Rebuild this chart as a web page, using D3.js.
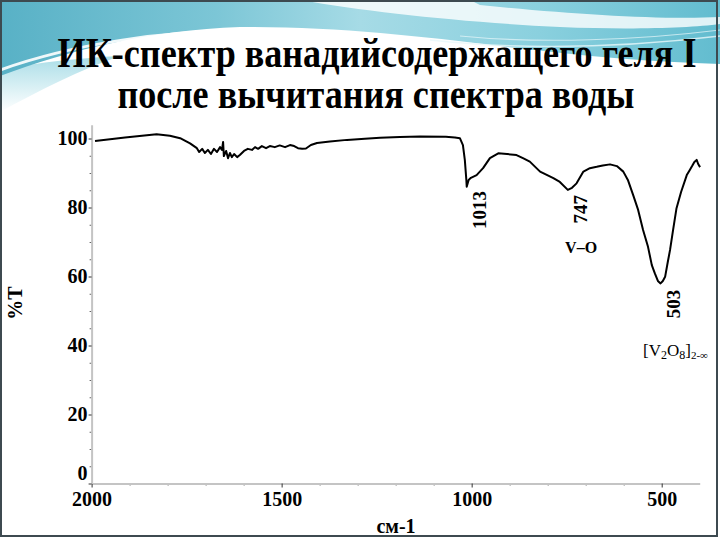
<!DOCTYPE html>
<html><head><meta charset="utf-8">
<script src="https://cdn.jsdelivr.net/npm/d3@7"></script>
<style>html,body{margin:0;padding:0;background:#fff;}svg{display:block;}</style>
</head><body>
<svg id="c" width="720" height="540"></svg>
<script>
// ---- data ----
const titleLines = ["ИК-спектр ванадийсодержащего геля I", "после вычитания спектра воды"];
const yLabel = "%T";
const xLabel = "см-1";
const xTicks = [2000, 1500, 1000, 500];
const yTicks = [0, 20, 40, 60, 80, 100];
const wavenumber = [1991,1912,1829,1794,1767,1741,1723,1717,1709,1702,1694,1686,1678,1670,1662,1657,1654,1652,1646,1641,1636,1631,1625,1617,1610,1599,1589,1578,1570,1562,1552,1541,1531,1518,1505,1491,1478,1467,1457,1446,1436,1423,1407,1373,1328,1281,1241,1189,1136,1068,1044,1031,1023,1018,1014,1013,1008,1002,987,970,952,930,907,882,865,847,820,785,768,747,736,724,706,689,671,655,636,618,601,589,575,562,549,536,526,518,510,503,497,491,484,478,470,461,449,434,426,420,414,408,404,399];
const transmittance = [99.3,100.3,101.2,100.8,100.1,98.6,97.2,96.1,97.0,95.8,96.7,95.5,97.0,96.1,97.5,96.7,99.0,94.9,96.4,94.3,95.8,94.6,95.5,94.6,95.2,96.4,97.0,96.7,97.5,97.0,97.8,97.2,97.8,97.5,98.0,97.5,98.1,97.8,97.2,97.0,97.1,98.1,98.7,99.1,99.6,99.9,100.2,100.4,100.6,100.5,100.3,100.1,98.1,93.8,88.0,86.0,88.0,88.6,89.4,91.4,94.3,95.7,95.5,95.2,94.3,93.3,90.4,88.5,87.4,85.1,85.7,87.0,90.4,91.4,91.8,92.2,92.5,92.0,90.4,88.0,83.6,79.3,73.5,68.6,63.3,60.9,58.7,58.0,58.7,59.9,64.2,67.7,73.5,79.8,84.5,89.4,90.9,92.0,93.2,93.8,92.6,91.7];
const peakLabels = [{w:1013, t:"1013", v:79.3}, {w:747, t:"747", v:79.5}, {w:503, t:"503", v:52.0}];
const bandLabels = [{w:712, v:66.8, t:"V–O"}];

const svg = d3.select("#c");
const serif = "'Liberation Serif','Times New Roman',serif";

// ---- background decoration ----
const defs = svg.append("defs");
const g1 = defs.append("linearGradient").attr("id","sky").attr("x1","0").attr("x2","1").attr("y1","0").attr("y2","0");
[["0%","#58b1c6"],["30%","#7cc6d6"],["50%","#a6dbe6"],["75%","#8ad0de"],["100%","#62bccf"]].forEach(s=>g1.append("stop").attr("offset",s[0]).attr("stop-color",s[1]));
const g2 = defs.append("linearGradient").attr("id","wedge").attr("x1","0").attr("x2","0").attr("y1","0").attr("y2","1");
g2.append("stop").attr("offset","0%").attr("stop-color","#a9dde7");
g2.append("stop").attr("offset","100%").attr("stop-color","#ffffff");

svg.append("rect").attr("width",720).attr("height",540).attr("fill","#fff");
svg.append("path").attr("d","M0,70 C40,62 80,58 120,56 C80,70 40,90 0,112 Z").attr("fill","url(#wedge)");
svg.append("path").attr("d","M0,0 H720 V64 C650,62 580,56 500,46 C420,36 330,26 240,27 C150,30 70,50 0,76 Z").attr("fill","url(#sky)");
svg.append("path").attr("d","M300,0 C370,12 460,22 560,27 C630,30 690,28 720,24 L720,17 C660,20 570,14 480,5 L470,0 Z").attr("fill","#fff").attr("opacity",0.8);
svg.append("path").attr("d","M0,70 C70,45 160,30 260,30 C320,31 360,36 380,40").attr("fill","none").attr("stroke","#fff").attr("stroke-width",3).attr("opacity",0.9);
svg.append("path").attr("d","M430,40 C520,50 620,48 720,36").attr("fill","none").attr("stroke","#e8f7fa").attr("stroke-width",1.5).attr("opacity",0.8);
svg.append("path").attr("d","M460,36 C540,44 640,40 720,30").attr("fill","none").attr("stroke","#e8f7fa").attr("stroke-width",1.2).attr("opacity",0.7);
svg.append("rect").attr("x",1).attr("y",1).attr("width",716).attr("height",535).attr("fill","none").attr("stroke","#3d4a50").attr("stroke-width",2);

// ---- title: one text block of two lines, condensed horizontally ----
const tFont = 42;
const probe = svg.append("text").attr("font-family",serif).attr("font-weight","bold").attr("font-size",tFont).text(titleLines[0]);
const nat1 = probe.node().getComputedTextLength();
probe.remove();
const sx = 639 / nat1;
const tg = svg.append("g").attr("transform",`translate(377,67) scale(${sx},1)`);
const tt = tg.append("text").attr("text-anchor","middle").attr("font-family",serif).attr("font-weight","bold")
  .attr("font-size",tFont).attr("fill","#000");
tt.append("tspan").attr("x",0).attr("y",0).text(titleLines[0]);
tt.append("tspan").attr("x",-1/sx).attr("y",41).text(titleLines[1]);

// ---- scales ----
const x = d3.scaleLinear().domain([2000, 400]).range([91.6, 699.7]);
const y = d3.scaleLinear().domain([0, 104]).range([483.5, 124.7]);

// minor ticks
const xMinor = d3.range(1900, 400, -100).filter(v => v % 500 !== 0);
const yMinor = d3.range(5, 104, 5).filter(v => v % 20 !== 0);
svg.append("g").attr("transform","translate(0,483.5)")
  .call(d3.axisBottom(x).tickValues(xMinor).tickSize(2).tickFormat(""))
  .call(g=>{g.select(".domain").remove(); g.selectAll("line").attr("stroke","#555");});
svg.append("g").attr("transform","translate(91.6,0)")
  .call(d3.axisLeft(y).tickValues(yMinor).tickSize(2).tickFormat(""))
  .call(g=>{g.select(".domain").remove(); g.selectAll("line").attr("stroke","#666");});

// major axes
const xa = svg.append("g").attr("transform","translate(0,483.5)")
  .call(d3.axisBottom(x).tickValues(xTicks).tickFormat(d3.format("d")).tickSize(4).tickPadding(4).tickSizeOuter(0));
xa.select(".domain").attr("stroke","#c4c4c4").attr("stroke-width",2);
xa.selectAll("line").attr("stroke","#333");
xa.selectAll("text").attr("font-family",serif).attr("font-weight","bold").attr("font-size",20).attr("fill","#000");

const ya = svg.append("g").attr("transform","translate(91.6,0)")
  .call(d3.axisLeft(y).tickValues(yTicks).tickFormat(d3.format("d")).tickSize(3).tickPadding(1).tickSizeOuter(0));
ya.select(".domain").attr("stroke","#c4c4c4").attr("stroke-width",2);
ya.selectAll("line").attr("stroke","#333");
ya.selectAll("text").attr("font-family",serif).attr("font-weight","bold").attr("font-size",20).attr("fill","#000")
  .attr("dy", d => d === 0 ? "-0.18em" : "0.32em");

// axis titles
svg.append("text").attr("transform","translate(15,303) rotate(-90)").attr("text-anchor","middle").attr("dominant-baseline","central")
  .attr("font-family",serif).attr("font-weight","bold").attr("font-size",20).text(yLabel);
svg.append("text").attr("x",396).attr("y",533).attr("text-anchor","middle")
  .attr("font-family",serif).attr("font-weight","bold").attr("font-size",20).text(xLabel);

// ---- spectrum ----
const pts = wavenumber.map((w,i)=>[w, transmittance[i]]);
svg.append("path").datum(pts)
  .attr("d", d3.line().x(d=>x(d[0])).y(d=>y(d[1])))
  .attr("fill","none").attr("stroke","#000").attr("stroke-width",2).attr("stroke-linejoin","round");

// ---- annotations ----
peakLabels.forEach(p=>{
  svg.append("text").attr("transform",`translate(${x(p.w)+13},${y(p.v)}) rotate(-90)`)
    .attr("text-anchor","middle").attr("dominant-baseline","central")
    .attr("font-family",serif).attr("font-weight","bold").attr("font-size",19).text(p.t);
});
bandLabels.forEach(b=>{
  svg.append("text").attr("x",x(b.w)).attr("y",y(b.v)).attr("text-anchor","middle")
    .attr("font-family",serif).attr("font-weight","bold").attr("font-size",16).text(b.t);
});
const vt = svg.append("text").attr("x",643).attr("y",356).attr("font-family",serif).attr("font-size",17).attr("fill","#000");
vt.append("tspan").text("[V");
vt.append("tspan").attr("font-size",12).attr("dy",3).text("2");
vt.append("tspan").attr("dy",-3).text("O");
vt.append("tspan").attr("font-size",12).attr("dy",3).text("8");
vt.append("tspan").attr("dy",-3).text("]");
vt.append("tspan").attr("font-size",11).attr("dy",3).text("2-∞");
</script>
</body></html>
